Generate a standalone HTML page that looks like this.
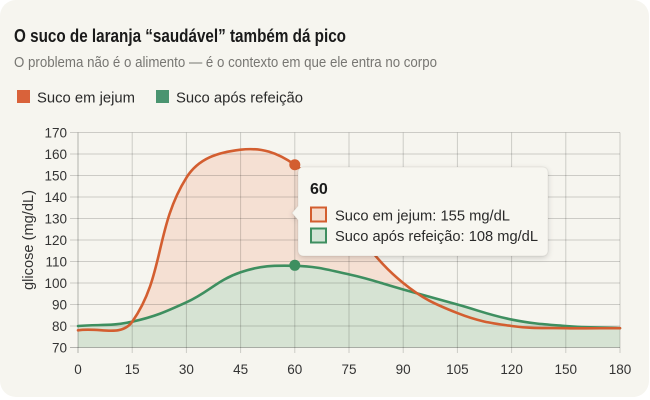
<!DOCTYPE html>
<html>
<head>
<meta charset="utf-8">
<style>
  html,body{margin:0;padding:0;background:#ffffff;}
  svg{display:block;font-family:"Liberation Sans","DejaVu Sans",sans-serif;}
</style>
</head>
<body>
<svg id="chart" width="650" height="400" viewBox="0 0 650 400" xmlns="http://www.w3.org/2000/svg">
  <defs>
    <filter id="sh" x="-20%" y="-20%" width="140%" height="150%">
      <feDropShadow dx="0" dy="2" stdDeviation="3" flood-color="#000" flood-opacity="0.16"/>
    </filter>
  </defs>
  <!-- card -->
  <rect x="0" y="0" width="649" height="397" rx="16" ry="16" fill="#f6f5ef"/>

  <!-- title -->
  <text x="14" y="42" font-size="18" font-weight="bold" fill="#1a1a1a" textLength="332" lengthAdjust="spacingAndGlyphs">O suco de laranja “saudável” também dá pico</text>
  <text x="14" y="67" font-size="15" fill="#777672" textLength="423" lengthAdjust="spacingAndGlyphs">O problema não é o alimento — é o contexto em que ele entra no corpo</text>

  <!-- legend -->
  <rect x="17" y="90" width="13" height="13" fill="#d9623a"/>
  <text x="37" y="102.5" font-size="15" fill="#2a2a2a" textLength="98" lengthAdjust="spacingAndGlyphs">Suco em jejum</text>
  <rect x="156" y="90" width="13" height="13" fill="#4a9470"/>
  <text x="176" y="102.5" font-size="15" fill="#2a2a2a" textLength="127" lengthAdjust="spacingAndGlyphs">Suco após refeição</text>

  <!-- fills -->
  <path id="fillO" fill="#f5e0d3"/>
  <path id="fillG" fill="#d6e3d3"/>

  <!-- grid -->
  <g id="grid" stroke="#000" stroke-opacity="0.17" stroke-width="1"></g>
  <g id="axes" stroke="#000" stroke-opacity="0.27" stroke-width="1">
    <line x1="78" y1="132.5" x2="78" y2="353"/>
    <line x1="70" y1="347.5" x2="620" y2="347.5"/>
  </g>

  <!-- tick labels -->
  <g id="ylabels" font-size="13.5" fill="#333" text-anchor="end"></g>
  <g id="xlabels" font-size="13.5" fill="#333" text-anchor="middle"></g>
  <text transform="translate(33,240) rotate(-90)" font-size="14.5" fill="#333" text-anchor="middle" textLength="100" lengthAdjust="spacingAndGlyphs">glicose (mg/dL)</text>

  <!-- lines -->
  <path id="lineG" fill="none" stroke="#3e8f60" stroke-width="2.6" stroke-linejoin="round" stroke-linecap="round"/>
  <path id="lineO" fill="none" stroke="#d35e30" stroke-width="2.6" stroke-linejoin="round" stroke-linecap="round"/>

  <!-- dots -->
  <circle cx="294.8" cy="164.75" r="5.5" fill="#d35e30"/>
  <circle cx="294.8" cy="265.3" r="5.5" fill="#3e8f60"/>

  <!-- tooltip -->
  <g filter="url(#sh)">
    <path d="M304,167 H542 Q548,167 548,173 V250 Q548,256 542,256 H304 Q298,256 298,250 V220 L292,213 L298,206 V173 Q298,167 304,167 Z" fill="#f7f6f0" stroke="#000" stroke-opacity="0.06"/>
  </g>
  <text x="310" y="194" font-size="16" font-weight="bold" fill="#1a1a1a">60</text>
  <rect x="311" y="207.5" width="15" height="14" fill="#f5dccd" stroke="#d35e30" stroke-width="2"/>
  <text x="335" y="220.5" font-size="15" fill="#2a2a2a" textLength="175" lengthAdjust="spacingAndGlyphs">Suco em jejum: 155 mg/dL</text>
  <rect x="311" y="228.5" width="15" height="14" fill="#d3e5d6" stroke="#3e8f60" stroke-width="2"/>
  <text x="335" y="241" font-size="15" fill="#2a2a2a" textLength="203" lengthAdjust="spacingAndGlyphs">Suco após refeição: 108 mg/dL</text>
</svg>
<script>
(function(){
  var NS="http://www.w3.org/2000/svg";
  var X=function(i){return 78+i*54.2;};
  var Y=function(v){return 347.5-(v-70)*2.15;};
  var cats=["0","15","30","45","60","75","90","105","120","150","180"];
  var orange=[78,82,149,162,155,127,100,86,80,79,79];
  var green=[80,82,91,105,108,104,97,90,83,80,79];
  var top=132.5,bot=347.5,left=78,right=620;

  var grid=document.getElementById("grid");
  var yl=document.getElementById("ylabels");
  var xl=document.getElementById("xlabels");
  for(var v=70;v<=170;v+=10){
    var y=Y(v);
    if(v>70){
      var l=document.createElementNS(NS,"line");
      l.setAttribute("x1",70);l.setAttribute("x2",right);
      l.setAttribute("y1",y);l.setAttribute("y2",y);
      grid.appendChild(l);
    }
    var t=document.createElementNS(NS,"text");
    t.setAttribute("x",67);t.setAttribute("y",y+5);
    t.textContent=v;yl.appendChild(t);
  }
  for(var i=0;i<cats.length;i++){
    var x=X(i);
    if(i>0){
      var l2=document.createElementNS(NS,"line");
      l2.setAttribute("x1",x);l2.setAttribute("x2",x);
      l2.setAttribute("y1",top);l2.setAttribute("y2",353);
      grid.appendChild(l2);
    }
    var t2=document.createElementNS(NS,"text");
    t2.setAttribute("x",x);t2.setAttribute("y",374);
    t2.textContent=cats[i];xl.appendChild(t2);
  }

  function dist(a,b){return Math.sqrt((a.x-b.x)*(a.x-b.x)+(a.y-b.y)*(a.y-b.y));}
  function build(vals){
    var pts=vals.map(function(v,i){return {x:X(i),y:Y(v)};});
    var n=pts.length;
    for(var i=0;i<n;i++){
      var prev=pts[Math.max(i-1,0)],cur=pts[i],next=pts[Math.min(i+1,n-1)];
      var d01=dist(cur,prev),d12=dist(next,cur);
      var s01=d01/(d01+d12),s12=d12/(d01+d12);
      if(isNaN(s01))s01=0;if(isNaN(s12))s12=0;
      var fa=0.4*s01,fb=0.4*s12;
      cur.cpx=cur.x-fa*(next.x-prev.x);cur.cpy=cur.y-fa*(next.y-prev.y);
      cur.cnx=cur.x+fb*(next.x-prev.x);cur.cny=cur.y+fb*(next.y-prev.y);
      cur.cpy=Math.min(Math.max(cur.cpy,top),bot);
      cur.cny=Math.min(Math.max(cur.cny,top),bot);
    }
    var d="M"+pts[0].x.toFixed(2)+","+pts[0].y.toFixed(2);
    for(var j=1;j<n;j++){
      var a=pts[j-1],b=pts[j];
      d+=" C"+a.cnx.toFixed(2)+","+a.cny.toFixed(2)+" "+b.cpx.toFixed(2)+","+b.cpy.toFixed(2)+" "+b.x.toFixed(2)+","+b.y.toFixed(2);
    }
    return d;
  }
  var dO=build(orange),dG=build(green);
  document.getElementById("lineO").setAttribute("d",dO);
  document.getElementById("lineG").setAttribute("d",dG);
  var close=" L"+right+","+bot+" L"+left+","+bot+" Z";
  document.getElementById("fillO").setAttribute("d",dO+close);
  document.getElementById("fillG").setAttribute("d",dG+close);
})();
</script>
</body>
</html>
